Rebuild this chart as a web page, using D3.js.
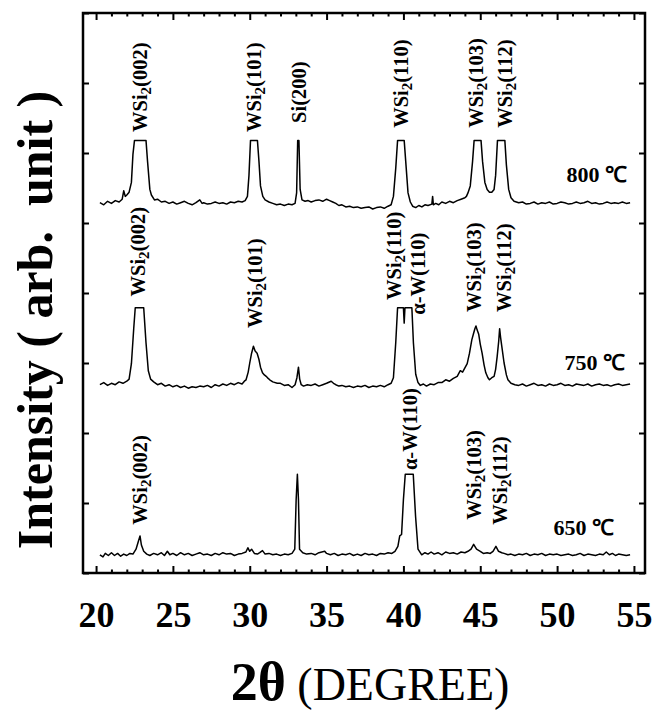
<!DOCTYPE html>
<html>
<head>
<meta charset="utf-8">
<script src="https://cdn.jsdelivr.net/npm/d3@7"></script>
<style>
  body { margin: 0; background: #fff; }
  text { font-family: "Liberation Serif", "Times New Roman", serif; }
</style>
</head>
<body>
<div id="chart"></div>
<script>
// XRD scans, 2theta vs intensity (arb., 100 = one tick), baseline ~0
var scan800 = [[20.25,1],[20.5,-2],[20.75,3],[21.0,0],[21.25,4],[21.5,2],[21.7,6],[21.8,18],[21.9,10],[22.0,12],
  [22.15,16],[22.3,30],[22.4,70],[22.5,90],[23.25,90],[23.35,60],[23.5,20],[23.6,12],[23.8,5],[24.0,6],
  [24.25,2],[24.5,3],[24.75,0],[25.0,2],[25.25,-1],[25.5,1],[25.75,3],[26.0,0],[26.25,-2],[26.5,1],
  [26.75,5],[26.9,0],[27.0,1],[27.25,-1],[27.5,0],[27.75,2],[28.0,0],[28.25,1],[28.5,-1],[28.75,2],
  [29.0,1],[29.25,3],[29.5,2],[29.7,4],[29.85,10],[29.95,40],[30.05,90],[30.5,90],[30.6,60],[30.7,25],
  [30.85,10],[31.0,5],[31.25,2],[31.5,0],[31.75,-2],[32.0,-1],[32.25,-3],[32.5,-1],[32.75,-2],[32.95,0],
  [33.05,15],[33.12,90],[33.2,90],[33.28,20],[33.4,5],[33.6,3],[33.8,4],[34.0,2],[34.25,4],[34.5,5],
  [34.75,3],[35.0,6],[35.2,4],[35.4,2],[35.6,0],[35.8,-3],[36.0,-2],[36.25,-5],[36.5,-4],[36.75,-6],
  [37.0,-5],[37.25,-7],[37.5,-6],[37.75,-5],[38.0,-8],[38.25,-6],[38.5,-5],[38.75,-7],[39.0,-4],[39.2,-2],
  [39.35,10],[39.5,50],[39.62,90],[40.05,90],[40.15,60],[40.3,15],[40.45,2],[40.6,-4],[40.8,-6],[41.0,-3],
  [41.2,-5],[41.4,-2],[41.6,-3],[41.85,-1],[41.9,10],[41.95,-2],[42.1,0],[42.3,-2],[42.5,2],[42.75,0],
  [43.0,3],[43.25,1],[43.5,4],[43.75,6],[44.0,8],[44.1,10],[44.2,15],[44.35,25],[44.5,60],[44.6,90],
  [45.05,90],[45.15,60],[45.3,30],[45.45,20],[45.6,16],[45.75,16],[45.9,20],[46.0,40],[46.12,90],[46.6,90],
  [46.7,55],[46.85,20],[47.0,8],[47.2,3],[47.5,1],[47.75,2],[48.0,-1],[48.25,0],[48.5,2],[48.75,-1],
  [49.0,1],[49.25,0],[49.5,2],[49.75,-1],[50.0,0],[50.25,2],[50.5,1],[50.75,-1],[51.0,0],[51.25,2],
  [51.5,0],[51.75,1],[52.0,3],[52.25,0],[52.5,1],[52.75,-1],[53.0,0],[53.25,2],[53.5,0],[53.75,1],
  [54.0,0],[54.25,2],[54.5,0],[54.75,1]];

var scan750 = [[20.25,0],[20.5,3],[20.75,-1],[21.0,2],[21.25,0],[21.5,4],[21.75,2],[22.0,5],[22.15,8],[22.3,30],
  [22.45,80],[22.55,110],[23.1,110],[23.25,60],[23.4,20],[23.55,8],[23.75,4],[24.0,0],[24.25,2],[24.5,-2],
  [24.75,0],[25.0,-3],[25.25,-1],[25.5,-4],[25.75,-2],[26.0,-5],[26.25,-3],[26.5,-4],[26.75,-2],[27.0,-3],
  [27.25,-1],[27.5,-4],[27.75,0],[28.0,-2],[28.25,1],[28.5,-1],[28.75,2],[29.0,0],[29.25,3],[29.5,1],
  [29.65,5],[29.76,7],[29.9,18],[30.0,31],[30.12,45],[30.24,55],[30.35,48],[30.48,45],[30.6,36],[30.7,25],
  [30.83,17],[30.95,14],[31.07,12],[31.2,9],[31.3,7],[31.5,4],[31.79,2],[32.0,2],[32.25,-1],[32.5,0],
  [32.75,-4],[32.95,0],[33.07,10],[33.17,25],[33.25,8],[33.35,0],[33.5,-2],[33.75,0],[34.0,-1],[34.25,1],
  [34.5,-2],[34.75,0],[35.0,2],[35.3,5],[35.45,2],[35.6,0],[35.8,-2],[36.0,-1],[36.25,-3],[36.5,-2],
  [36.75,-4],[37.0,-2],[37.25,-3],[37.5,-1],[37.75,-4],[38.0,-2],[38.25,-3],[38.5,-1],[38.75,-3],[39.0,0],
  [39.2,2],[39.35,10],[39.5,60],[39.62,110],[40.0,110],[40.05,88],[40.1,110],[40.55,110],[40.65,60],[40.8,15],
  [40.95,3],[41.1,-1],[41.3,1],[41.5,-2],[41.75,1],[42.0,0],[42.25,3],[42.5,3],[42.75,7],[43.0,5],
  [43.25,9],[43.5,12],[43.7,20],[43.85,18],[44.0,24],[44.15,30],[44.3,45],[44.45,64],[44.55,72],[44.65,80],
  [44.72,84],[44.8,78],[44.9,72],[45.0,58],[45.12,45],[45.25,28],[45.36,17],[45.5,10],[45.6,7],[45.75,10],
  [45.9,12],[46.0,22],[46.1,40],[46.2,62],[46.26,80],[46.32,68],[46.4,55],[46.55,31],[46.7,14],[46.8,7],
  [47.0,2],[47.25,0],[47.5,-1],[47.75,1],[48.0,-2],[48.25,0],[48.5,2],[48.75,-1],[49.0,0],[49.25,-2],
  [49.5,1],[49.75,-1],[50.0,0],[50.25,2],[50.5,-1],[50.75,0],[51.0,-2],[51.25,1],[51.5,0],[51.75,-1],
  [52.0,1],[52.25,-2],[52.5,0],[52.75,1],[53.0,-1],[53.25,0],[53.5,-2],[53.75,0],[54.0,1],[54.25,-1],
  [54.5,0],[54.75,1]];

var scan650 = [[20.25,1],[20.45,-2],[20.6,3],[20.8,0],[21.0,4],[21.2,0],[21.4,3],[21.6,-1],[21.8,2],[22.0,0],
  [22.2,3],[22.4,2],[22.6,9],[22.75,20],[22.86,28],[22.95,15],[23.1,6],[23.3,2],[23.5,0],[23.75,3],
  [24.0,1],[24.25,4],[24.45,0],[24.64,6],[24.8,1],[25.0,3],[25.25,0],[25.5,4],[25.75,1],[26.0,3],
  [26.25,0],[26.5,2],[26.75,4],[27.0,1],[27.25,2],[27.5,0],[27.75,3],[28.0,1],[28.25,4],[28.5,2],
  [28.75,3],[29.0,0],[29.25,2],[29.5,3],[29.75,5],[29.88,11],[30.0,6],[30.12,9],[30.3,3],[30.5,2],
  [30.65,4],[30.83,7],[31.0,2],[31.25,3],[31.5,1],[31.75,2],[32.0,0],[32.25,2],[32.5,1],[32.75,3],
  [32.93,9],[33.02,80],[33.1,116],[33.17,80],[33.24,9],[33.45,4],[33.7,2],[34.0,3],[34.25,1],[34.5,4],
  [34.88,6],[35.0,3],[35.25,1],[35.5,3],[35.75,0],[36.0,2],[36.25,1],[36.5,3],[36.75,0],[37.0,2],
  [37.25,0],[37.5,3],[37.75,1],[38.0,2],[38.25,0],[38.5,3],[38.75,2],[39.0,4],[39.25,3],[39.45,6],
  [39.64,13],[39.76,28],[39.88,30],[40.0,80],[40.12,116],[40.64,116],[40.79,56],[40.95,9],[41.19,1],[41.4,4],
  [41.6,2],[41.8,5],[42.0,2],[42.25,4],[42.5,1],[42.75,5],[43.0,3],[43.25,4],[43.5,2],[43.75,5],
  [44.0,4],[44.2,6],[44.4,9],[44.57,16],[44.76,9],[45.0,6],[45.2,3],[45.45,4],[45.65,3],[45.83,6],
  [46.02,13],[46.19,6],[46.4,4],[46.55,3],[46.8,1],[47.0,2],[47.25,0],[47.5,2],[47.75,1],[48.0,3],
  [48.25,0],[48.5,2],[48.75,1],[49.0,3],[49.25,0],[49.5,2],[49.75,1],[50.0,2],[50.25,0],[50.5,1],
  [50.75,2],[51.0,0],[51.25,1],[51.5,3],[51.75,0],[52.0,2],[52.25,1],[52.5,0],[52.75,2],[53.0,1],
  [53.2,5],[53.4,1],[53.6,3],[53.8,0],[54.0,2],[54.25,1],[54.5,0],[54.75,1]];

// vertical stacking offset for each scan
var offsets = {"800": 528, "750": 269, "650": 25};
var temps = ["800", "750", "650"];
var scans = {"800": scan800, "750": scan750, "650": scan650};
// where the temperature text ends (2theta) and sits (intensity units)
var tempLabels = [
  {t: "800", x: 54.55, y: 559},
  {t: "750", x: 54.42, y: 290},
  {t: "650", x: 53.7,  y: 54}
];

// peak labels: phase, hkl, 2theta of label centre, intensity of label start
var peaks = [
  {phase: "WSi", sub: "2", hkl: "(002)", x: 22.86, y: 630},
  {phase: "WSi", sub: "2", hkl: "(101)", x: 30.31, y: 630},
  {phase: "Si", sub: "", hkl: "(200)", x: 33.21, y: 643},
  {phase: "WSi", sub: "2", hkl: "(110)", x: 39.88, y: 636},
  {phase: "WSi", sub: "2", hkl: "(103)", x: 44.76, y: 636},
  {phase: "WSi", sub: "2", hkl: "(112)", x: 46.67, y: 636},
  {phase: "WSi", sub: "2", hkl: "(002)", x: 22.74, y: 395},
  {phase: "WSi", sub: "2", hkl: "(101)", x: 30.36, y: 350},
  {phase: "WSi", sub: "2", hkl: "(110)", x: 39.45, y: 390},
  {phase: "\u03B1-W", sub: "", hkl: "(110)", x: 40.95, y: 369},
  {phase: "WSi", sub: "2", hkl: "(103)", x: 44.64, y: 373},
  {phase: "WSi", sub: "2", hkl: "(112)", x: 46.6, y: 373},
  {phase: "WSi", sub: "2", hkl: "(002)", x: 22.86, y: 69},
  {phase: "\u03B1-W", sub: "", hkl: "(110)", x: 40.48, y: 147},
  {phase: "WSi", sub: "2", hkl: "(103)", x: 44.64, y: 76},
  {phase: "WSi", sub: "2", hkl: "(112)", x: 46.31, y: 69}
];

var xTicks = [20, 25, 30, 35, 40, 45, 50, 55];
var xMinorTicks = d3.range(20, 56).filter(d => d % 5 != 0);

var W = 656, H = 714;
var margin = {top: 13, right: 11, bottom: 141, left: 83},
  width = W - margin.left - margin.right,
  height = H - margin.top - margin.bottom;

var svg = d3.select("#chart")
  .append("svg")
  .attr("width", W)
  .attr("height", H)
  .append("g")
  .attr("transform", "translate(" + margin.left + "," + margin.top + ")");

var xScale = d3.scaleLinear().domain([19.15, 55.72]).range([0, width]);
var yScale = d3.scaleLinear().domain([0, 800]).range([height, 0]);

// ticks, all pointing inward
function tickStyle(g) {
  g.select(".domain").remove();
  g.selectAll("line").attr("stroke", "#000").attr("stroke-width", 2);
  g.selectAll("text").remove();
}
svg.append("g").attr("transform", "translate(0," + height + ")")
  .call(d3.axisBottom(xScale).tickValues(xTicks).tickSize(-7)).call(tickStyle);
svg.append("g").attr("transform", "translate(0," + height + ")")
  .call(d3.axisBottom(xScale).tickValues(xMinorTicks).tickSize(-3.5)).call(tickStyle);
svg.append("g")
  .call(d3.axisTop(xScale).tickValues(xTicks).tickSize(-7)).call(tickStyle);
svg.append("g")
  .call(d3.axisTop(xScale).tickValues(xMinorTicks).tickSize(-3.5)).call(tickStyle);
svg.append("g")
  .call(d3.axisLeft(yScale).ticks(8).tickSize(-6)).call(tickStyle);
svg.append("g").attr("transform", "translate(" + width + ",0)")
  .call(d3.axisRight(yScale).ticks(8).tickSize(-6)).call(tickStyle);

// tick labels
var xLab = svg.append("g").attr("transform", "translate(0," + height + ")")
  .call(d3.axisBottom(xScale).tickValues(xTicks).tickSize(0).tickPadding(28));
xLab.select(".domain").remove();
xLab.selectAll("text")
  .attr("font-family", "Liberation Serif, Times New Roman, serif")
  .attr("font-weight", "bold")
  .attr("font-size", 36)
  .attr("fill", "#000");

// frame
svg.append("rect")
  .attr("width", width)
  .attr("height", height)
  .attr("fill", "none")
  .attr("stroke", "#000")
  .attr("stroke-width", 2.5);

// the scans
var line = d3.line()
  .x(d => xScale(d[0]))
  .y(d => yScale(d[1]));

temps.forEach(function (t) {
  svg.append("path")
    .datum(scans[t].map(d => [d[0], d[1] + offsets[t]]))
    .attr("fill", "none")
    .attr("stroke", "#000")
    .attr("stroke-width", 1.5)
    .attr("stroke-linejoin", "round")
    .attr("d", line);
});

// peak labels, rotated
peaks.forEach(function (p) {
  var px = xScale(p.x) + 6.5, py = yScale(p.y);
  var t = svg.append("text")
    .attr("x", px).attr("y", py)
    .attr("transform", "rotate(-90," + px + "," + py + ")")
    .attr("font-weight", "bold")
    .attr("font-size", 20.5)
    .attr("fill", "#000");
  t.append("tspan").text(p.phase);
  if (p.sub) {
    t.append("tspan").attr("dy", 4).attr("font-size", 15).text(p.sub);
    t.append("tspan").attr("dy", -4).text(p.hkl);
  } else {
    t.append("tspan").text(p.hkl);
  }
});

// temperature labels
tempLabels.forEach(function (d) {
  svg.append("text")
    .attr("x", xScale(d.x))
    .attr("y", yScale(d.y))
    .attr("text-anchor", "end")
    .attr("font-weight", "bold")
    .attr("font-size", 22)
    .attr("fill", "#000")
    .text(d.t + " \u2103");
});

// axis titles
svg.append("text")
  .attr("transform", "translate(" + (52 - margin.left) + "," + (320 - margin.top) + ") rotate(-90)")
  .attr("text-anchor", "middle")
  .attr("font-weight", "bold")
  .attr("font-size", 50)
  .attr("fill", "#000")
  .attr("xml:space", "preserve")
  .text("Intensity ( arb.  unit )");

var xt = svg.append("text")
  .attr("x", 370 - margin.left)
  .attr("y", 700 - margin.top)
  .attr("text-anchor", "middle")
  .attr("fill", "#000");
xt.append("tspan").attr("font-weight", "bold").attr("font-size", 54).text("2\u03B8");
xt.append("tspan").attr("font-size", 46).text(" (DEGREE)");
</script>
</body>
</html>
